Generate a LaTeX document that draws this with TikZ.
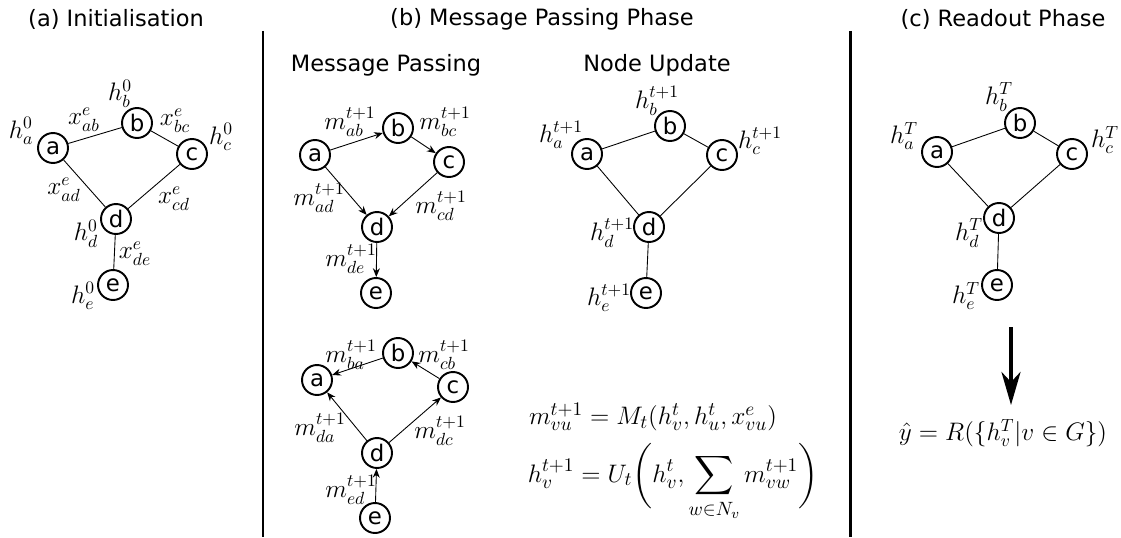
\documentclass[tikz,border=0pt]{standalone}
\usepackage{amsmath,amssymb}
\usepackage{fontspec}
\setmainfont{DejaVu Sans}
\usepackage{tikz}
\usetikzlibrary{arrows.meta, positioning}

\begin{document}
\begin{tikzpicture}[
    x=0.02cm, y=-0.02cm,
    vertex/.style={circle, draw, line width=1.1pt, minimum size=0.6cm, inner sep=0pt, font=\fontsize{13}{15}\selectfont},
    link/.style={line width=0.5pt},
    msg/.style={-{Stealth[length=5pt, width=4pt]}, line width=0.5pt},
    lab/.style={inner sep=0pt, font=\fontsize{14}{16}\selectfont},
    heading/.style={font=\fontsize{12.8}{15}\selectfont},
    divider/.style={line width=1.7pt},
    eqn/.style={inner sep=0pt, font=\fontsize{15.5}{18}\selectfont}
]
\useasboundingbox (0,0) rectangle (1121,537);

% headings
\node (tinit) [heading] at (116,19) {(a) Initialisation};
\node (tmp) [heading] at (542,19) {(b) Message Passing Phase};
\node (tread) [heading] at (1003,19) {(c) Readout Phase};
\node (tpass) [heading] at (386,65) {Message Passing};
\node (tupd) [heading] at (657,65) {Node Update};
\draw [divider] (263,31) -- (263,537);
\draw [divider] (850,31) -- (850,537);

% (a) initialisation
\node (ia) [vertex] at (53,148) {a};
\node (ib) [vertex] at (137,123) {b};
\node (ic) [vertex] at (192,154) {c};
\node (id) [vertex] at (116,219) {d};
\node (ie) [vertex] at (113,285) {e};
\draw [link] (ia) -- (ib); \draw [link] (ib) -- (ic);
\draw [link] (ia) -- (id); \draw [link] (ic) -- (id);
\draw [link] (id) -- (ie);
\node (iha) [lab] at (21,131) {$h_a^0$};
\node (ihb) [lab] at (120,94) {$h_b^0$};
\node (ihc) [lab] at (221,137) {$h_c^0$};
\node (ihd) [lab] at (86,234) {$h_d^0$};
\node (ihe) [lab] at (83,296) {$h_e^0$};
\node (ixab) [lab] at (84,120) {$x_{ab}^e$};
\node (ixbc) [lab] at (175,121) {$x_{bc}^e$};
\node (ixad) [lab] at (64,190) {$x_{ad}^e$};
\node (ixcd) [lab] at (174,199) {$x_{cd}^e$};
\node (ixde) [lab] at (135,254) {$x_{de}^e$};

% (b) message passing, outgoing
\node (pa) [vertex] at (315,155) {a};
\node (pb) [vertex] at (398,128) {b};
\node (pc) [vertex] at (449,162) {c};
\node (pd) [vertex] at (377,227) {d};
\node (pe) [vertex] at (376,293) {e};
\draw [msg] (pa) -- (pb); \draw [msg] (pb) -- (pc);
\draw [msg] (pa) -- (pd); \draw [msg] (pc) -- (pd);
\draw [msg] (pd) -- (pe);
\node (pmab) [lab] at (350,122) {$m_{ab}^{t+1}$};
\node (pmbc) [lab] at (445,122) {$m_{bc}^{t+1}$};
\node (pmad) [lab] at (319,198) {$m_{ad}^{t+1}$};
\node (pmcd) [lab] at (441,206) {$m_{cd}^{t+1}$};
\node (pmde) [lab] at (351,259) {$m_{de}^{t+1}$};

% (b) message passing, reverse
\node (qa) [vertex] at (317,380) {a};
\node (qb) [vertex] at (398,353) {b};
\node (qc) [vertex] at (453,387) {c};
\node (qd) [vertex] at (377,453) {d};
\node (qe) [vertex] at (375,518) {e};
\draw [msg] (qb) -- (qa); \draw [msg] (qc) -- (qb);
\draw [msg] (qd) -- (qa); \draw [msg] (qd) -- (qc);
\draw [msg] (qe) -- (qd);
\node (qmba) [lab] at (351,355) {$m_{ba}^{t+1}$};
\node (qmcb) [lab] at (444,355) {$m_{cb}^{t+1}$};
\node (qmda) [lab] at (320,428) {$m_{da}^{t+1}$};
\node (qmdc) [lab] at (440,431) {$m_{dc}^{t+1}$};
\node (qmed) [lab] at (351,490) {$m_{ed}^{t+1}$};

% (b) node update
\node (ua) [vertex] at (587,154) {a};
\node (ub) [vertex] at (670,126) {b};
\node (uc) [vertex] at (722,155) {c};
\node (ud) [vertex] at (649,227) {d};
\node (ue) [vertex] at (646,293) {e};
\draw [link] (ua) -- (ub); \draw [link] (ub) -- (uc);
\draw [link] (ua) -- (ud); \draw [link] (uc) -- (ud);
\draw [link] (ud) -- (ue);
\node (uha) [lab] at (561,135) {$h_a^{t+1}$};
\node (uhb) [lab] at (657,101) {$h_b^{t+1}$};
\node (uhc) [lab] at (760,141) {$h_c^{t+1}$};
\node (uhd) [lab] at (612,233) {$h_d^{t+1}$};
\node (uhe) [lab] at (609,298) {$h_e^{t+1}$};

\node (eqm) [eqn] at (653,417) {$m_{vu}^{t+1} = M_t(h_v^t, h_u^t, x_{vu}^e)$};
\node (eqh) [eqn] at (673,482) {$\displaystyle h_v^{t+1} = U_t \bigg(h_v^t, \sum_{w\in N_v} m_{vw}^{t+1}\bigg)$};

% (c) readout
\node (ra) [vertex] at (937,152) {a};
\node (rb) [vertex] at (1020,123) {b};
\node (rc) [vertex] at (1072,154) {c};
\node (rd) [vertex] at (999,218) {d};
\node (re) [vertex] at (997,285) {e};
\draw [link] (ra) -- (rb); \draw [link] (rb) -- (rc);
\draw [link] (ra) -- (rd); \draw [link] (rc) -- (rd);
\draw [link] (rd) -- (re);
\node (rha) [lab] at (904,136) {$h_a^T$};
\node (rhb) [lab] at (999,97) {$h_b^T$};
\node (rhc) [lab] at (1105,140) {$h_c^T$};
\node (rhd) [lab] at (969,233) {$h_d^T$};
\node (rhe) [lab] at (966,296) {$h_e^T$};

\node (eqy) [eqn, font=\fontsize{14.7}{17}\selectfont] at (1003,433) {$\hat{y} = R(\{h_v^T | v \in G\})$};
\coordinate (rtop) at (1011,327);
\coordinate (rbot) at (1011,405);
\draw [line width=2.3pt, -{Stealth[length=0.66cm, width=0.38cm, inset=0.2cm]}] (rtop) -- (rbot);
\end{tikzpicture}
\end{document}
